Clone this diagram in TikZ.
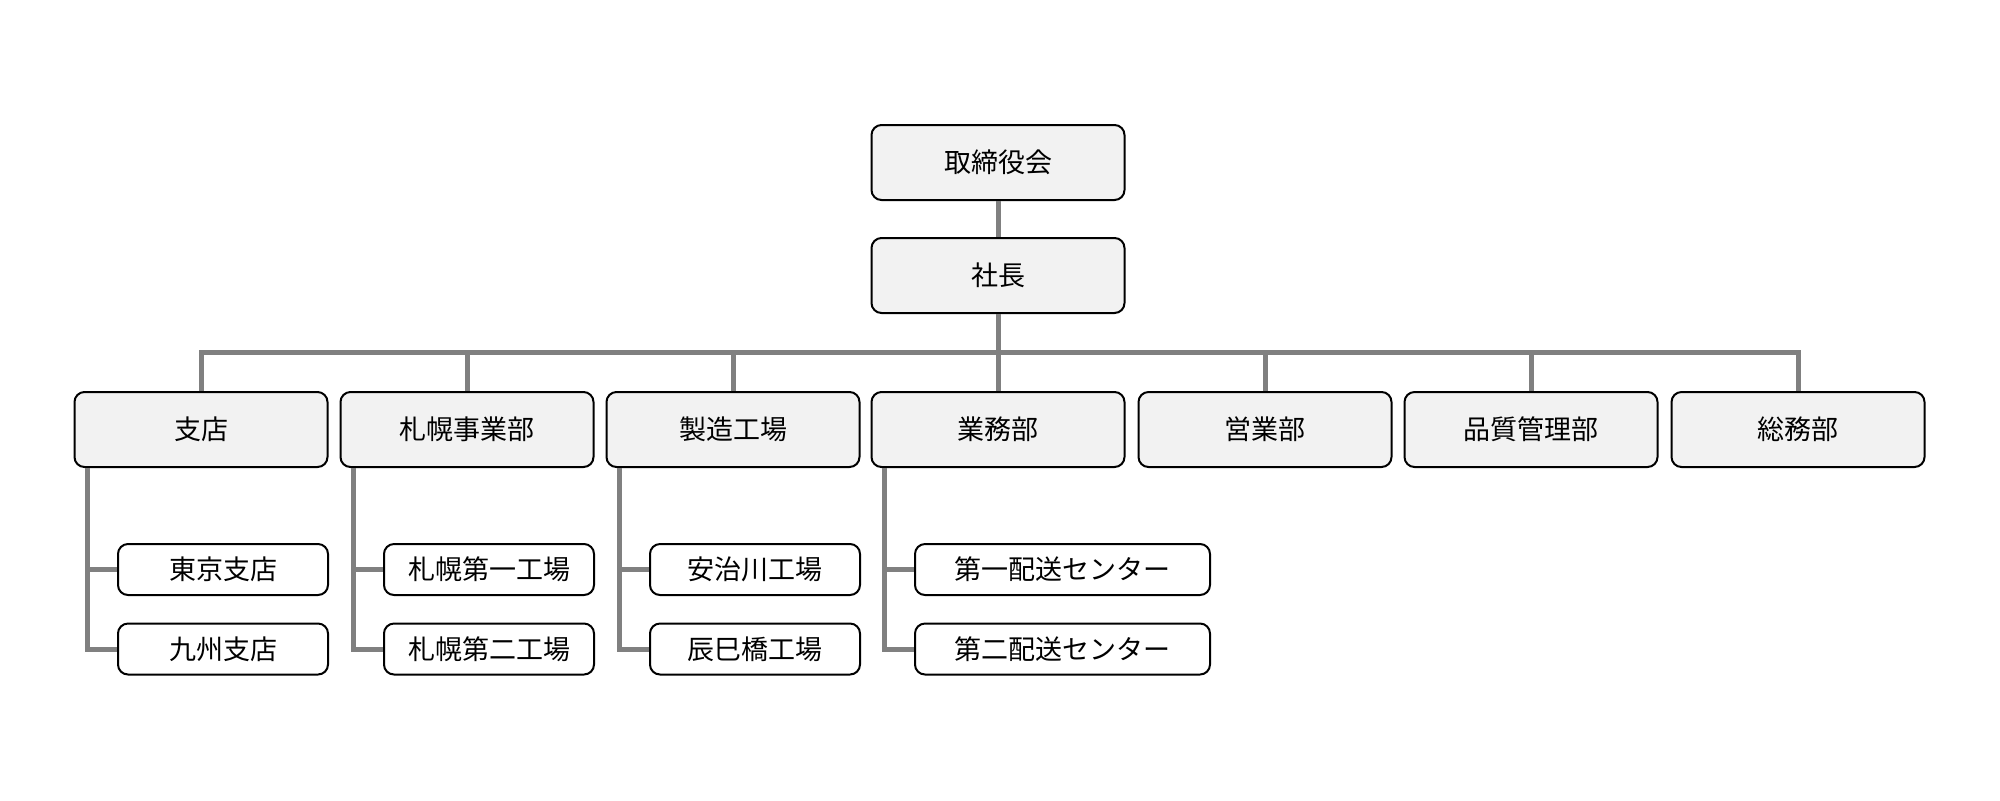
\documentclass[tikz,border=0pt]{standalone}
\usepackage{fontspec}
\setmainfont{Noto Sans CJK JP}
\usepackage{xcolor}
\usepackage{tikz}
\usetikzlibrary{calc,positioning}

\definecolor{boxgray}{HTML}{F2F2F2}
\definecolor{linegray}{HTML}{808080}

\tikzset{
  orgbox/.style={draw=black, line width=1pt, rounded corners=5pt, fill=boxgray,
    minimum width=126.5pt, minimum height=37.5pt, inner sep=0pt, font=\fontsize{13.5pt}{16pt}\selectfont},
  subbox/.style={orgbox, fill=white, minimum width=105pt, minimum height=25.5pt},
  widebox/.style={subbox, minimum width=147.5pt},
  bus/.style={draw=linegray, line width=2.5pt}
}

\begin{document}
\begin{tikzpicture}[x=0.5pt,y=-0.5pt]

  \useasboundingbox (0,0) rectangle (2000,800);

  \node[orgbox] (board) at (998,162.5) {取締役会};
  \node[orgbox] (pres) at (998,275.5) {社長};

    \node[orgbox] (shiten) at (201,429.5) {支店};
    \node[orgbox] (sapporo) at (467,429.5) {札幌事業部};
    \node[orgbox] (seizo) at (733,429.5) {製造工場};
    \node[orgbox] (gyomu) at (998,429.5) {業務部};
    \node[orgbox] (eigyo) at (1265,429.5) {営業部};
    \node[orgbox] (hinshitsu) at (1531,429.5) {品質管理部};
    \node[orgbox] (somu) at (1798,429.5) {総務部};

        \node[subbox] (tokyo) at (223,569.5) {東京支店};
        \node[subbox] (kyushu) at (223,649) {九州支店};
        \node[subbox] (sap1) at (489,569.5) {札幌第一工場};
        \node[subbox] (sap2) at (489,649) {札幌第二工場};
        \node[subbox] (ajikawa) at (755,569.5) {安治川工場};
        \node[subbox] (tatsumi) at (755,649) {辰巳橋工場};
        \node[widebox] (haiso1) at (1062.5,569.5) {第一配送センター};
        \node[widebox] (haiso2) at (1062.5,649) {第二配送センター};

  % top of the tree
  \coordinate (bus) at (998,352);
  \draw[bus] (board.south) -- (pres.north);
  \draw[bus] (pres.south) -- (bus);
  \draw[bus] (shiten.north) |- (bus) -| (somu.north);
  \foreach \d in {sapporo,seizo,gyomu,eigyo,hinshitsu}
    \draw[bus] (\d.north) -- (\d.north |- bus);

  % branches
  \foreach \p/\a/\b in {shiten/tokyo/kyushu, sapporo/sap1/sap2, seizo/ajikawa/tatsumi, gyomu/haiso1/haiso2}{
    \coordinate (top) at ([xshift=7pt]\p.south west);
    \draw[bus] (top) |- (\b.west);
    \draw[bus] (top |- \a.west) -- (\a.west);
  }

\end{tikzpicture}
\end{document}
